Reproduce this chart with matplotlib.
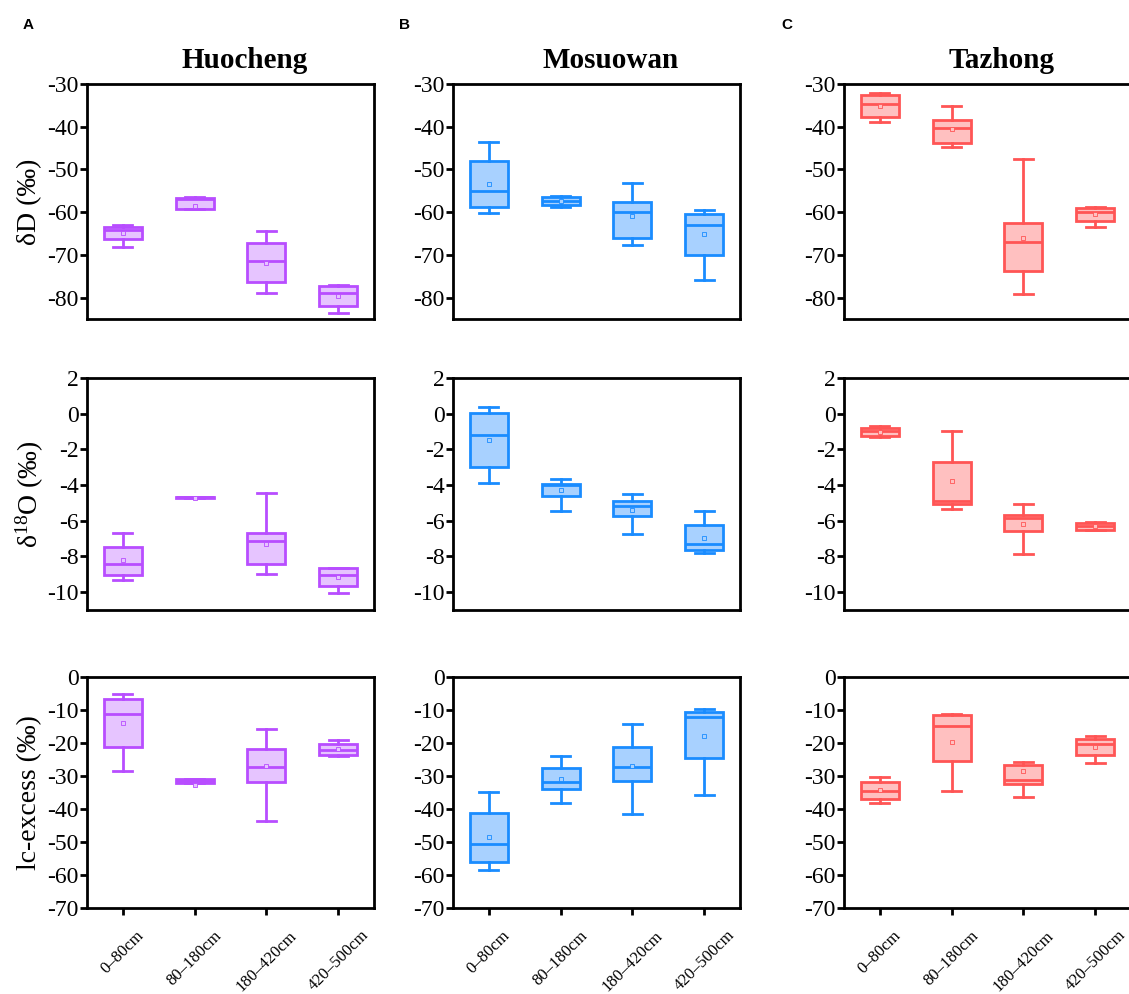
import matplotlib
matplotlib.use("Agg")
import matplotlib.pyplot as plt

plt.rcParams['font.family'] = ['Liberation Serif', 'DejaVu Serif']
plt.rcParams['mathtext.fontset'] = 'custom'
plt.rcParams['mathtext.rm'] = 'Liberation Serif'
plt.rcParams['mathtext.it'] = 'Liberation Serif:italic'
plt.rcParams['axes.unicode_minus'] = False

depths = ["0–80cm", "80–180cm", "180–420cm", "420–500cm"]
sites = ["Huocheng", "Mosuowan", "Tazhong"]
panel_tags = ["A", "B", "C"]
edge_colors = ["#B84DFF", "#1A8CFF", "#FF5555"]
fill_colors = ["#E6C4FF", "#A8D1FF", "#FFC0C0"]

# each row: whisker low, Q1, median, Q3, whisker high, mean
huocheng_dD = [[-68.1, -66.3, -64.2, -63.4, -63.0, -64.9],
               [-59.3, -59.2, -56.9, -56.6, -56.4, -58.5],
               [-78.8, -76.3, -71.4, -67.1, -64.3, -71.8],
               [-83.5, -82.0, -79.0, -77.3, -77.0, -79.6]]
mosuowan_dD = [[-60.1, -58.8, -55.0, -48.0, -43.5, -53.4],
               [-58.7, -58.3, -57.3, -56.5, -56.3, -57.3],
               [-67.6, -66.0, -59.9, -57.7, -53.1, -60.9],
               [-75.8, -70.1, -62.9, -60.5, -59.5, -65.2]]
tazhong_dD = [[-38.8, -37.7, -34.7, -32.6, -32.2, -35.1],
              [-44.7, -43.8, -40.3, -38.5, -35.1, -40.5],
              [-79.1, -73.7, -67.0, -62.5, -47.6, -66.0],
              [-63.4, -62.1, -59.9, -59.1, -58.9, -60.5]]

huocheng_d18O = [[-9.31, -9.03, -8.44, -7.45, -6.67, -8.20],
                 [-4.70, -4.70, -4.69, -4.68, -4.68, -4.72],
                 [-8.99, -8.44, -7.13, -6.67, -4.42, -7.30],
                 [-10.06, -9.68, -9.03, -8.66, -8.62, -9.16]]
mosuowan_d18O = [[-3.89, -2.99, -1.18, 0.04, 0.36, -1.46],
                 [-5.44, -4.60, -4.00, -3.93, -3.66, -4.30],
                 [-6.75, -5.76, -5.20, -4.88, -4.49, -5.38],
                 [-7.78, -7.63, -7.31, -6.26, -5.44, -6.97]]
tazhong_d18O = [[-1.33, -1.23, -0.99, -0.80, -0.71, -1.00],
                [-5.33, -5.05, -4.92, -2.71, -0.99, -3.79],
                [-7.85, -6.60, -5.85, -5.66, -5.05, -6.19],
                [-6.54, -6.51, -6.32, -6.13, -6.07, -6.32]]

huocheng_lc = [[-28.4, -21.3, -11.3, -6.8, -5.0, -13.9],
               [-32.1, -32.0, -31.4, -31.0, -30.8, -32.7],
               [-43.6, -31.9, -27.2, -21.8, -15.9, -27.0],
               [-23.9, -23.5, -22.2, -20.4, -19.1, -21.8]]
mosuowan_lc = [[-58.4, -56.2, -50.5, -41.1, -34.8, -48.6],
               [-38.1, -33.9, -31.8, -27.6, -23.8, -30.9],
               [-41.6, -31.4, -27.4, -21.1, -14.3, -26.9],
               [-35.9, -24.5, -12.0, -10.7, -9.7, -17.8]]
tazhong_lc = [[-38.2, -37.1, -34.4, -31.7, -30.2, -34.2],
              [-34.4, -25.6, -14.8, -11.6, -11.2, -19.6],
              [-36.4, -32.4, -31.2, -26.6, -25.9, -28.4],
              [-26.2, -23.7, -20.2, -18.7, -17.9, -21.1]]

panels = [[huocheng_dD, mosuowan_dD, tazhong_dD],
          [huocheng_d18O, mosuowan_d18O, tazhong_d18O],
          [huocheng_lc, mosuowan_lc, tazhong_lc]]

ylabels = ["δD (‰)", "δ$^{18}$O (‰)", "lc-excess (‰)"]
ylims = [(-85, -30), (-11, 2), (-70, 0)]
yticks = [list(range(-80, -29, 10)), list(range(-10, 3, 2)), list(range(-70, 1, 10))]

W, H = 1129, 994
fig = plt.figure(figsize=(W / 100, H / 100), dpi=100)

col_left = [87, 453, 844]
col_width = 287
row_top = [84, 378, 677]
row_bot = [319, 610, 908]


def make_stats(rows):
    out = []
    for lo, q1, med, q3, hi, mean in rows:
        out.append(dict(whislo=lo, q1=q1, med=med, q3=q3, whishi=hi,
                        mean=mean, fliers=[]))
    return out


for r in range(3):
    for c in range(3):
        ax = fig.add_axes([col_left[c] / W, 1 - row_bot[r] / H,
                           col_width / W, (row_bot[r] - row_top[r]) / H])
        ec, fc = edge_colors[c], fill_colors[c]
        ax.bxp(make_stats(panels[r][c]), positions=[1, 2, 3, 4], widths=0.53,
               patch_artist=True, showmeans=True, showfliers=False,
               boxprops=dict(facecolor=fc, edgecolor=ec, linewidth=2.0),
               whiskerprops=dict(color=ec, linewidth=2.0),
               capprops=dict(color=ec, linewidth=2.0),
               medianprops=dict(color=ec, linewidth=2.0),
               meanprops=dict(marker='s', markersize=2.6, markerfacecolor=fc,
                              markeredgecolor=ec, markeredgewidth=0.6))
        ax.set_xlim(0.5, 4.5)
        ax.set_ylim(*ylims[r])
        ax.set_yticks(yticks[r])
        ax.tick_params(axis='y', direction='out', length=5, width=2.0,
                       labelsize=17, pad=1)
        for s in ax.spines.values():
            s.set_linewidth(2.0)
        if r == 2:
            ax.set_xticks([1, 2, 3, 4])
            ax.set_xticklabels(depths, rotation=45, fontsize=12)
            ax.tick_params(axis='x', direction='out', length=5, width=2.0, pad=9)
        else:
            ax.set_xticks([])

for c in range(3):
    fig.text((col_left[c] + col_width / 2 + 14) / W, 1 - 60 / H, sites[c],
             ha='center', va='center', fontsize=21, fontweight='bold')
    fig.text([28, 405, 787][c] / W, 1 - 25 / H, panel_tags[c],
             ha='center', va='center', fontsize=11, fontweight='bold',
             family='Liberation Sans')

for r in range(3):
    fig.text(30 / W, 1 - (row_top[r] + row_bot[r]) / 2 / H, ylabels[r],
             rotation=90, ha='center', va='center', fontsize=20)

fig.savefig("out.png", dpi=100)
